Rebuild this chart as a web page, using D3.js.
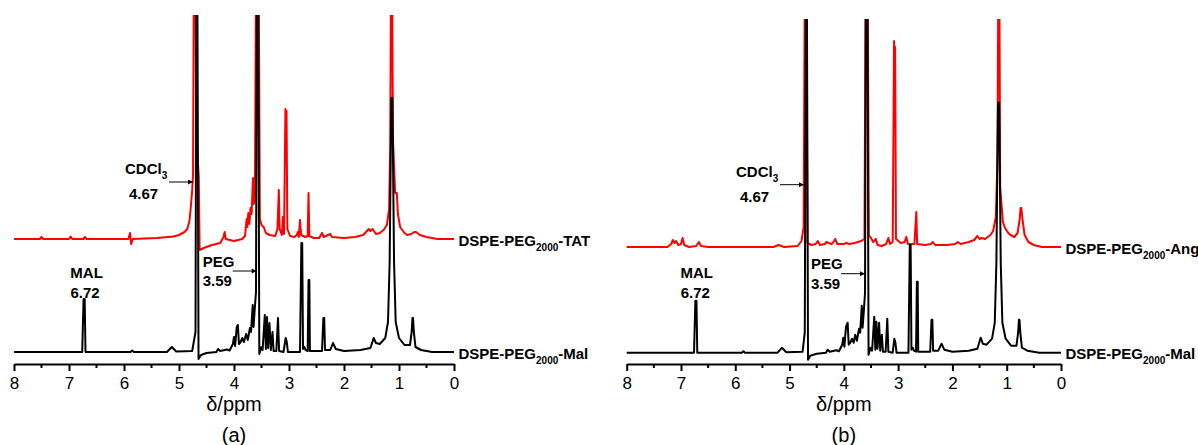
<!DOCTYPE html>
<html>
<head>
<meta charset="utf-8">
<script src="https://cdn.jsdelivr.net/npm/d3@7"></script>
<style>
  body { margin: 0; background: #fff; }
  text { font-family: "Liberation Sans", Arial, sans-serif; }
</style>
</head>
<body>
<svg id="chart" width="1198" height="445"></svg>
<script>
// 1H NMR spectra, two panels. Intensities are in a.u. above each trace's own baseline
// points are [ppm, intensity]

const malA = [[8.0,0],[6.76,0],[6.735,53],[6.715,53],[6.70,0],[5.88,0],[5.85,1.5],[5.82,0],[5.22,0],[5.13,5],[5.05,0.5],
  [4.76,1],[4.70,20],[4.685,345],[4.665,345],[4.645,-7],[4.60,-3],[4.50,-1],[4.32,0],[4.29,3],[4.25,1],[4.13,2.5],[4.08,1.5],
  [4.02,8],[4.00,15],[3.98,6],[3.95,25],[3.93,27],[3.91,8],[3.88,10],[3.85,14],[3.82,10],[3.78,18],[3.75,12],[3.71,24],
  [3.69,20],[3.66,47],[3.645,25],[3.62,45],[3.60,60],[3.585,345],[3.56,345],[3.54,-2],[3.50,5],[3.48,2],[3.44,37],[3.42,3],
  [3.40,35],[3.38,4],[3.355,29],[3.33,2],[3.30,20],[3.28,1],[3.23,1],[3.20,34],[3.18,1],[3.10,0],[3.06,14],[3.04,10],
  [3.02,0],[2.80,0],[2.775,109],[2.76,109],[2.745,3],[2.72,5],[2.70,2],[2.66,1],[2.645,72],[2.63,72],[2.62,1],[2.40,1],
  [2.375,34],[2.36,34],[2.345,2],[2.25,2],[2.20,9],[2.15,3],[2.00,1],[1.70,2],[1.52,4],[1.46,14],[1.42,9],[1.35,8],
  [1.25,14],[1.20,30],[1.17,90],[1.15,200],[1.14,254],[1.12,254],[1.11,200],[1.09,90],[1.06,30],[1.00,14],[0.90,7],
  [0.80,7],[0.77,20],[0.755,34],[0.745,34],[0.73,20],[0.70,5],[0.60,2],[0.40,0],[0,0]];

const tat = [[8.0,0],[7.53,0],[7.50,2],[7.47,0],[7.0,0],[6.97,2.5],[6.94,0],[6.74,0],[6.71,2],[6.68,0],[5.92,0],
  [5.89,6],[5.87,-5],[5.84,0],[5.4,1],[5.1,2.5],[5.0,4],[4.9,7],[4.85,10],[4.81,18],[4.79,29],[4.76,49],[4.745,64],
  [4.73,260],[4.70,260],[4.69,120],[4.66,80],[4.64,62],[4.625,-11],[4.55,-9],[4.4,-6],[4.25,-4],[4.19,2],[4.17,7],
  [4.15,0],[4.0,-2],[3.85,0],[3.8,3],[3.77,20],[3.76,12],[3.74,26],[3.72,15],[3.70,31],[3.68,25],[3.655,61],[3.64,35],
  [3.62,40],[3.60,260],[3.55,260],[3.53,20],[3.50,14],[3.46,12],[3.42,6],[3.35,4],[3.25,3],[3.21,10],[3.185,49],
  [3.17,10],[3.13,4],[3.11,22],[3.09,5],[3.065,130],[3.055,110],[3.045,128],[3.03,10],[2.98,3],[2.90,2],[2.86,4],
  [2.84,7],[2.82,2],[2.80,19],[2.78,4],[2.70,2],[2.66,3],[2.645,46],[2.63,3],[2.55,1],[2.45,1],[2.40,6],[2.37,2],
  [2.25,5],[2.22,2],[2.0,1],[1.8,2],[1.65,4],[1.55,10],[1.52,8],[1.48,10],[1.42,5],[1.35,6],[1.28,9],[1.22,14],
  [1.18,30],[1.16,90],[1.145,260],[1.125,260],[1.11,100],[1.07,46],[1.04,46],[1.02,25],[0.98,12],[0.90,6],[0.85,4],[0.78,5],
  [0.72,7],[0.69,7],[0.62,4],[0.50,2],[0.30,0],[0,0]];

const malB = [[8.0,0],[6.76,0],[6.735,52],[6.715,52],[6.70,0],[5.88,0],[5.85,1.5],[5.82,0],[5.22,0],[5.14,5],[5.06,0.5],
  [4.76,1],[4.72,20],[4.70,345],[4.68,345],[4.66,-7],[4.62,-3],[4.5,-1],[4.33,0],[4.30,3],[4.26,1],[4.14,2.5],[4.09,1.5],
  [4.03,8],[4.01,15],[3.99,6],[3.96,26],[3.93,30],[3.91,8],[3.88,10],[3.85,14],[3.82,10],[3.79,18],[3.76,12],[3.72,24],
  [3.70,20],[3.67,47],[3.655,25],[3.63,43],[3.61,60],[3.595,345],[3.565,345],[3.545,-2],[3.51,5],[3.48,2],[3.44,36],
  [3.42,3],[3.40,31],[3.38,4],[3.35,30],[3.33,2],[3.30,18],[3.28,1],[3.23,1],[3.20,34],[3.18,1],[3.10,0],[3.07,14],
  [3.05,10],[3.03,0],[2.81,0],[2.785,108],[2.77,108],[2.755,3],[2.73,5],[2.71,2],[2.67,1],[2.655,71],[2.64,71],[2.63,1],
  [2.41,1],[2.385,33],[2.37,33],[2.355,2],[2.26,2],[2.20,9],[2.15,3],[2.00,1],[1.70,2],[1.54,4],[1.48,15],[1.44,9],
  [1.37,8],[1.27,14],[1.22,30],[1.19,90],[1.17,200],[1.16,250],[1.14,250],[1.13,200],[1.11,90],[1.08,30],[1.02,14],
  [0.92,7],[0.82,7],[0.79,20],[0.775,33],[0.765,33],[0.75,20],[0.72,5],[0.62,2],[0.40,0],[0,0]];

const ang = [[8.0,0],[7.25,0],[7.18,3],[7.15,7],[7.12,4],[7.09,6],[7.05,2],[7.0,3],[6.97,9],[6.94,2],[6.85,0],[6.72,1],
  [6.67,5],[6.63,1],[6.5,0],[5.3,0],[5.2,2],[5.1,0],[4.85,1],[4.78,6],[4.74,20],[4.72,260],[4.69,260],[4.67,4],[4.6,2],
  [4.52,3],[4.48,6],[4.44,2],[4.35,3],[4.32,5],[4.28,4],[4.22,3],[4.18,6],[4.16,8],[4.12,3],[4.0,3],[3.95,4],[3.9,3],
  [3.8,4],[3.74,5],[3.68,6],[3.62,8],[3.60,260],[3.56,260],[3.54,12],[3.50,9],[3.46,5],[3.41,8],[3.38,2],[3.30,1],
  [3.22,3],[3.18,9],[3.15,3],[3.10,5],[3.075,206],[3.065,190],[3.055,200],[3.04,8],[2.95,4],[2.88,5],[2.85,10],[2.82,3],
  [2.70,3],[2.665,35],[2.65,3],[2.5,2],[2.4,3],[2.36,5],[2.32,2],[2.1,2],[1.95,3],[1.90,5],[1.85,3],[1.7,5],[1.6,7],
  [1.54,11],[1.50,8],[1.46,9],[1.40,8],[1.30,12],[1.25,16],[1.2,30],[1.17,90],[1.155,260],[1.135,260],[1.12,60],[1.07,25],
  [1.03,19],[0.97,14],[0.93,12],[0.86,10],[0.80,14],[0.76,28],[0.745,39],[0.73,39],[0.71,28],[0.67,12],[0.60,5],
  [0.5,2],[0.35,0],[0,0]];

const tickValues = [8, 7, 6, 5, 4, 3, 2, 1, 0];
const minorTicks = [7.5, 6.5, 5.5, 4.5, 3.5, 2.5, 1.5, 0.5];

// panel layout (pixels)
const panels = [
  { name: "(a)", left: 14, right: 454, axisY: 364, baseY: 352, topY: 15, redOffset: 113,
    red: tat, black: malA, redLabel: "-TAT",
    cdcl: { ppm: 4.745, h: 170 }, peg: { ppm: 3.587, h: 81 }, mal: { ppm: 6.68 } },
  { name: "(b)", left: 626.7, right: 1061, axisY: 364, baseY: 352.7, topY: 19, redOffset: 105.7,
    red: ang, black: malB, redLabel: "-Ang",
    cdcl: { ppm: 4.734, h: 168 }, peg: { ppm: 3.61, h: 79 }, mal: { ppm: 6.71 } }
];

const svg = d3.select("#chart");

svg.append("defs").append("marker")
    .attr("id", "arrow")
    .attr("viewBox", "0 0 10 10")
    .attr("refX", 10).attr("refY", 5)
    .attr("markerWidth", 7).attr("markerHeight", 5)
    .attr("markerUnits", "userSpaceOnUse")
    .attr("orient", "auto")
  .append("path")
    .attr("d", "M0,0 L10,5 L0,10 z")
    .attr("fill", "#000");

panels.forEach((p, i) => {
    const x = d3.scaleLinear().domain([8, 0]).range([p.left, p.right]);
    const y = d3.scaleLinear().domain([0, p.baseY - p.topY]).range([p.baseY, p.topY]);

    const g = svg.append("g").attr("class", "panel");

    svg.select("defs").append("clipPath")
        .attr("id", "clip" + i)
      .append("rect")
        .attr("x", p.left - 5).attr("y", p.topY)
        .attr("width", p.right - p.left + 10).attr("height", p.axisY - p.topY - 3);

    const line = off => d3.line()
        .x(d => x(d[0]))
        .y(d => y(d[1] + off));

    const traces = g.append("g").attr("clip-path", `url(#clip${i})`);

    traces.append("path")
        .datum(p.red)
        .attr("fill", "none")
        .attr("stroke", "#ff0000")
        .attr("stroke-width", 2)
        .attr("stroke-linejoin", "round")
        .attr("d", line(p.redOffset));

    traces.append("path")
        .datum(p.black)
        .attr("fill", "none")
        .attr("stroke", "#000")
        .attr("stroke-width", 2)
        .attr("stroke-linejoin", "round")
        .attr("d", line(0));

    // x axis
    const axis = g.append("g")
        .attr("transform", `translate(0,${p.axisY})`)
        .call(d3.axisBottom(x).tickValues(tickValues).tickSize(7).tickSizeOuter(0).tickFormat(d3.format("d")));
    axis.select(".domain").attr("stroke-width", 2);
    axis.selectAll(".tick line").attr("stroke-width", 2);
    axis.selectAll(".tick text")
        .attr("y", 24.5).attr("dy", 0)
        .attr("font-size", 17)
        .attr("font-family", "'Liberation Sans', Arial, sans-serif");

    axis.selectAll(".minor")
        .data(minorTicks)
        .enter().append("line")
        .attr("class", "minor")
        .attr("x1", d => x(d)).attr("x2", d => x(d))
        .attr("y1", 0).attr("y2", 4)
        .attr("stroke", "#000").attr("stroke-width", 2);

    const cx = (p.left + p.right) / 2;
    g.append("text")
        .attr("x", cx).attr("y", 411)
        .attr("text-anchor", "middle")
        .attr("font-size", 20)
        .text("δ/ppm");
    g.append("text")
        .attr("x", cx).attr("y", 442)
        .attr("text-anchor", "middle")
        .attr("font-size", 20)
        .text(p.name);

    // trace labels
    const traceLabel = (yPos, suffix) => {
        const t = g.append("text")
            .attr("x", p.right + 4.5).attr("y", yPos)
            .attr("font-size", 15).attr("font-weight", "bold");
        t.append("tspan").text("DSPE-PEG");
        t.append("tspan").attr("font-size", 10).attr("dy", 5).text("2000");
        t.append("tspan").attr("dy", -5).text(suffix);
    };
    traceLabel(y(p.redOffset) + 6.5, p.redLabel);
    traceLabel(y(0) + 6.5, "-Mal");

    // annotations
    const bold = (xx, yy, s) => g.append("text")
        .attr("x", xx).attr("y", yy)
        .attr("font-size", 15).attr("font-weight", "bold")
        .text(s);

    const cxp = x(p.cdcl.ppm), cyp = y(p.cdcl.h);
    const c = bold(cxp - 68, cyp - 8, "CDCl");
    c.append("tspan").attr("font-size", 10).attr("dy", 5).text("3");
    bold(cxp - 64, cyp + 17, "4.67");
    g.append("line")
        .attr("x1", cxp - 24).attr("x2", cxp)
        .attr("y1", cyp).attr("y2", cyp)
        .attr("stroke", "#000").attr("stroke-width", 1)
        .attr("marker-end", "url(#arrow)");

    const pxp = x(p.peg.ppm), pyp = y(p.peg.h);
    bold(pxp - 54, pyp - 4.5, "PEG");
    bold(pxp - 54, pyp + 15, "3.59");
    g.append("line")
        .attr("x1", pxp - 24).attr("x2", pxp)
        .attr("y1", pyp).attr("y2", pyp)
        .attr("stroke", "#000").attr("stroke-width", 1)
        .attr("marker-end", "url(#arrow)");

    const mx = x(p.mal.ppm);
    bold(mx, 278, "MAL").attr("text-anchor", "middle");
    bold(mx - 1.5, 297.5, "6.72").attr("text-anchor", "middle");
});
</script>
</body>
</html>
